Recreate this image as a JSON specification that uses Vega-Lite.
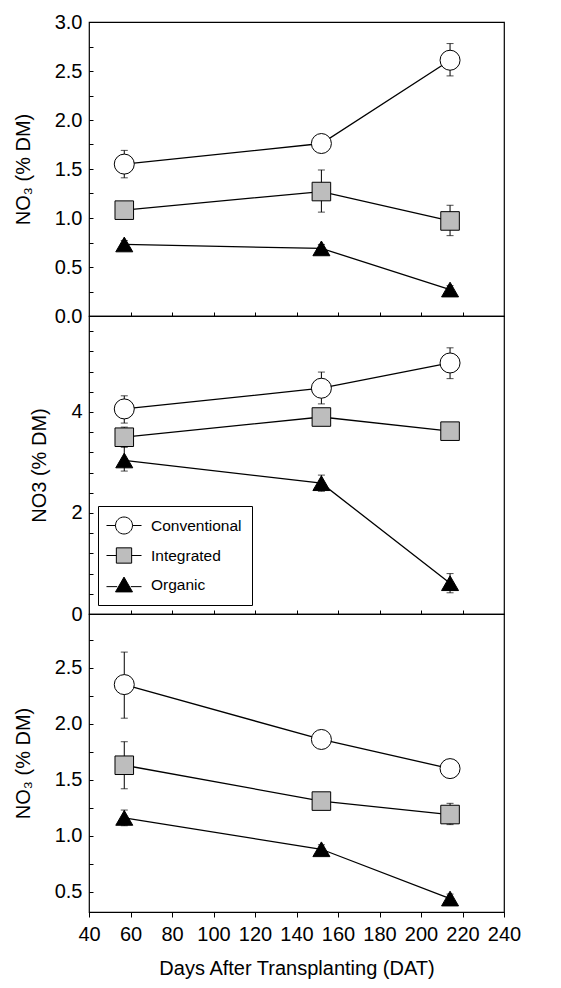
{
  "$schema": "https://vega.github.io/schema/vega-lite/v6.json",
  "autosize": {"type": "pad"},
  "padding": {"left": 12, "top": 11, "right": 5, "bottom": 5},
  "background": "white",
  "spacing": 0,
  "bounds": "flush",
  "config": {
    "view": {"stroke": "black", "strokeWidth": 1.2},
    "font": "Liberation Sans",
    "axis": {
      "labelFont": "Liberation Sans", "labelFontSize": 20, "labelColor": "black",
      "titleFont": "Liberation Sans", "titleFontSize": 20, "titleFontWeight": "normal", "titleColor": "black",
      "tickColor": "black", "domain": false, "grid": false
    },
    "legend": {"labelFont": "Liberation Sans"}
  },
  "datasets": {
    "d": [
      {"panel": "Young leaves", "trt": "Conventional", "dat": 57, "v": 1.55, "lo": 1.41, "hi": 1.69},
      {"panel": "Young leaves", "trt": "Conventional", "dat": 152, "v": 1.76, "lo": 1.72, "hi": 1.80},
      {"panel": "Young leaves", "trt": "Conventional", "dat": 214, "v": 2.61, "lo": 2.45, "hi": 2.78},
      {"panel": "Young leaves", "trt": "Integrated", "dat": 57, "v": 1.08, "lo": 1.02, "hi": 1.14},
      {"panel": "Young leaves", "trt": "Integrated", "dat": 152, "v": 1.27, "lo": 1.06, "hi": 1.49},
      {"panel": "Young leaves", "trt": "Integrated", "dat": 214, "v": 0.97, "lo": 0.82, "hi": 1.13},
      {"panel": "Young leaves", "trt": "Organic", "dat": 57, "v": 0.73, "lo": 0.69, "hi": 0.77},
      {"panel": "Young leaves", "trt": "Organic", "dat": 152, "v": 0.69, "lo": 0.64, "hi": 0.73},
      {"panel": "Young leaves", "trt": "Organic", "dat": 214, "v": 0.27, "lo": 0.23, "hi": 0.31},
      {"panel": "Stem", "trt": "Conventional", "dat": 57, "v": 4.06, "lo": 3.78, "hi": 4.32},
      {"panel": "Stem", "trt": "Conventional", "dat": 152, "v": 4.47, "lo": 4.16, "hi": 4.79},
      {"panel": "Stem", "trt": "Conventional", "dat": 214, "v": 4.97, "lo": 4.66, "hi": 5.27},
      {"panel": "Stem", "trt": "Integrated", "dat": 57, "v": 3.50, "lo": 3.30, "hi": 3.70},
      {"panel": "Stem", "trt": "Integrated", "dat": 152, "v": 3.90, "lo": 3.80, "hi": 4.00},
      {"panel": "Stem", "trt": "Integrated", "dat": 214, "v": 3.62, "lo": 3.50, "hi": 3.74},
      {"panel": "Stem", "trt": "Organic", "dat": 57, "v": 3.04, "lo": 2.83, "hi": 3.32},
      {"panel": "Stem", "trt": "Organic", "dat": 152, "v": 2.59, "lo": 2.43, "hi": 2.75},
      {"panel": "Stem", "trt": "Organic", "dat": 214, "v": 0.61, "lo": 0.42, "hi": 0.80},
      {"panel": "Roots", "trt": "Conventional", "dat": 57, "v": 2.35, "lo": 2.05, "hi": 2.64},
      {"panel": "Roots", "trt": "Conventional", "dat": 152, "v": 1.86, "lo": 1.82, "hi": 1.90},
      {"panel": "Roots", "trt": "Conventional", "dat": 214, "v": 1.60, "lo": 1.56, "hi": 1.64},
      {"panel": "Roots", "trt": "Integrated", "dat": 57, "v": 1.63, "lo": 1.42, "hi": 1.84},
      {"panel": "Roots", "trt": "Integrated", "dat": 152, "v": 1.31, "lo": 1.27, "hi": 1.35},
      {"panel": "Roots", "trt": "Integrated", "dat": 214, "v": 1.19, "lo": 1.10, "hi": 1.29},
      {"panel": "Roots", "trt": "Organic", "dat": 57, "v": 1.16, "lo": 1.09, "hi": 1.23},
      {"panel": "Roots", "trt": "Organic", "dat": 152, "v": 0.88, "lo": 0.84, "hi": 0.92},
      {"panel": "Roots", "trt": "Organic", "dat": 214, "v": 0.44, "lo": 0.40, "hi": 0.48}
    ]
  },
  "vconcat": [
    {
      "width": 415, "height": 294,
      "data": {"name": "d"},
      "transform": [{"filter": "datum.panel === 'Young leaves'"}],
      "encoding": {
        "x": {"field": "dat", "type": "quantitative",
          "scale": {"domain": [40, 240], "nice": false, "zero": false},
          "axis": {"labels": false, "title": null, "tickSize": -4, "values": [60, 80, 100, 120, 140, 160, 180, 200, 220]}},
        "y": {"field": "v", "type": "quantitative",
          "scale": {"domain": [0, 3], "nice": false, "zero": false},
          "axis": {"title": "NO₃ (% DM)", "tickSize": -4, "labelPadding": 11, "titlePadding": 21,
            "values": [0, 0.25, 0.5, 0.75, 1, 1.25, 1.5, 1.75, 2, 2.25, 2.5, 2.75, 3],
            "labelExpr": "(datum.value * 2) % 1 == 0 ? format(datum.value, '.1f') : ''"}}
      },
      "layer": [
        {"mark": {"type": "rule", "color": "black", "strokeWidth": 1}, "encoding": {"y": {"field": "lo", "type": "quantitative"}, "y2": {"field": "hi"}}},
        {"mark": {"type": "tick", "orient": "horizontal", "color": "black", "size": 7, "thickness": 1}, "encoding": {"y": {"field": "lo", "type": "quantitative"}}},
        {"mark": {"type": "tick", "orient": "horizontal", "color": "black", "size": 7, "thickness": 1}, "encoding": {"y": {"field": "hi", "type": "quantitative"}}},
        {"mark": {"type": "line", "color": "black", "strokeWidth": 1.3}, "encoding": {"detail": {"field": "trt"}}},
        {"mark": {"type": "point", "filled": true, "stroke": "black", "strokeWidth": 1, "opacity": 1},
          "encoding": {
            "fill": {"field": "trt", "type": "nominal", "scale": {"domain": ["Conventional", "Integrated", "Organic"], "range": ["white", "#bdbdbd", "black"]}, "legend": null},
            "shape": {"field": "trt", "type": "nominal", "scale": {"domain": ["Conventional", "Integrated", "Organic"], "range": ["circle", "square", "triangle-up"]}, "legend": null},
            "size": {"field": "trt", "type": "nominal", "scale": {"domain": ["Conventional", "Integrated", "Organic"], "range": [400, 289, 340]}, "legend": null}
          }},
        {"data": {"values": [{"label": "Young leaves"}]},
          "mark": {"type": "text", "align": "left", "baseline": "middle", "fontSize": 20, "font": "Liberation Sans", "color": "black"},
          "encoding": {"text": {"field": "label"}, "x": {"datum": 52}, "y": {"datum": 2.68}}}
      ]
    },
    {
      "width": 415, "height": 298,
      "data": {"name": "d"},
      "transform": [{"filter": "datum.panel === 'Stem'"}],
      "resolve": {"scale": {"fill": "independent", "shape": "independent", "stroke": "independent"}},
      "encoding": {
        "x": {"field": "dat", "type": "quantitative",
          "scale": {"domain": [40, 240], "nice": false, "zero": false},
          "axis": {"labels": false, "title": null, "tickSize": -4, "values": [60, 80, 100, 120, 140, 160, 180, 200, 220]}},
        "y": {"field": "v", "type": "quantitative",
          "scale": {"domain": [0, 5.9], "nice": false, "zero": false},
          "axis": {"title": "NO3 (% DM)", "tickSize": -4, "labelPadding": 11, "titlePadding": 21,
            "values": [0, 0.4, 0.8, 1.2, 1.6, 2, 2.4, 2.8, 3.2, 3.6, 4, 4.4, 4.8, 5.2, 5.6],
            "labelExpr": "datum.value == 0 || datum.value == 2 || datum.value == 4 ? format(datum.value, 'd') : ''"}}
      },
      "layer": [
        {"mark": {"type": "rule", "color": "black", "strokeWidth": 1}, "encoding": {"y": {"field": "lo", "type": "quantitative"}, "y2": {"field": "hi"}}},
        {"mark": {"type": "tick", "orient": "horizontal", "color": "black", "size": 7, "thickness": 1}, "encoding": {"y": {"field": "lo", "type": "quantitative"}}},
        {"mark": {"type": "tick", "orient": "horizontal", "color": "black", "size": 7, "thickness": 1}, "encoding": {"y": {"field": "hi", "type": "quantitative"}}},
        {"mark": {"type": "line", "color": "black", "strokeWidth": 1.3}, "encoding": {"detail": {"field": "trt"}}},
        {"mark": {"type": "point", "filled": true, "stroke": "black", "strokeWidth": 1, "opacity": 1},
          "encoding": {
            "fill": {"field": "trt", "type": "nominal", "scale": {"domain": ["Conventional", "Integrated", "Organic"], "range": ["white", "#bdbdbd", "black"]}, "legend": null},
            "shape": {"field": "trt", "type": "nominal", "scale": {"domain": ["Conventional", "Integrated", "Organic"], "range": ["circle", "square", "triangle-up"]}, "legend": null},
            "size": {"field": "trt", "type": "nominal", "scale": {"domain": ["Conventional", "Integrated", "Organic"], "range": [400, 289, 340]}, "legend": null}
          }},
        {"transform": [{"filter": "false"}],
          "mark": {"type": "point", "filled": true, "strokeWidth": 1, "opacity": 1},
          "encoding": {
            "fill": {"field": "trt", "type": "nominal", "scale": {"domain": ["Conventional", "Integrated", "Organic"], "range": ["white", "#bdbdbd", "black"]},
              "legend": {"title": null, "orient": "bottom-left", "offset": 9, "strokeColor": "black", "fillColor": "white", "padding": 10.5,
                "symbolSize": 289, "symbolOffset": 6.5, "labelOffset": 18, "labelFontSize": 15.5, "labelColor": "black", "rowPadding": 9, "symbolStrokeWidth": 1}},
            "shape": {"field": "trt", "type": "nominal", "scale": {"domain": ["Conventional", "Integrated", "Organic"], "range": ["M-2.06,0H-1M1,0H2.06M-1,0A1,1,0,1,1,1,0A1,1,0,1,1,-1,0Z", "M-2.06,0H-0.9M0.9,0H2.06M-0.9,-0.9H0.9V0.9H-0.9Z", "M-2.06,0.25H-0.8M0.8,0.25H2.06M0,-0.87L1,0.87L-1,0.87Z"]},
              "legend": {"title": null, "orient": "bottom-left", "offset": 9, "strokeColor": "black", "fillColor": "white", "padding": 10.5,
                "symbolSize": 289, "symbolOffset": 6.5, "labelOffset": 18, "labelFontSize": 15.5, "labelColor": "black", "rowPadding": 9, "symbolStrokeWidth": 1}},
            "stroke": {"field": "trt", "type": "nominal", "scale": {"domain": ["Conventional", "Integrated", "Organic"], "range": ["black", "black", "black"]},
              "legend": {"title": null, "orient": "bottom-left", "offset": 9, "strokeColor": "black", "fillColor": "white", "padding": 10.5,
                "symbolSize": 289, "symbolOffset": 6.5, "labelOffset": 18, "labelFontSize": 15.5, "labelColor": "black", "rowPadding": 9, "symbolStrokeWidth": 1}}
          }},
        {"data": {"values": [{"label": "Stem"}]},
          "mark": {"type": "text", "align": "left", "baseline": "middle", "fontSize": 20, "font": "Liberation Sans", "color": "black"},
          "encoding": {"text": {"field": "label"}, "x": {"datum": 50.6}, "y": {"datum": 5.25}}}
      ]
    },
    {
      "width": 415, "height": 298,
      "data": {"name": "d"},
      "transform": [{"filter": "datum.panel === 'Roots'"}],
      "encoding": {
        "x": {"field": "dat", "type": "quantitative",
          "scale": {"domain": [40, 240], "nice": false, "zero": false},
          "axis": {"title": "Days After Transplanting (DAT)", "tickSize": 5, "labelPadding": 7, "titlePadding": 14, "labelFlush": false,
            "values": [40, 60, 80, 100, 120, 140, 160, 180, 200, 220, 240]}},
        "y": {"field": "v", "type": "quantitative",
          "scale": {"domain": [0.32, 2.98], "nice": false, "zero": false},
          "axis": {"title": "NO₃ (% DM)", "tickSize": -4, "labelPadding": 11, "titlePadding": 21,
            "values": [0.5, 0.75, 1, 1.25, 1.5, 1.75, 2, 2.25, 2.5, 2.75],
            "labelExpr": "(datum.value * 2) % 1 == 0 ? format(datum.value, '.1f') : ''"}}
      },
      "layer": [
        {"mark": {"type": "rule", "color": "black", "strokeWidth": 1}, "encoding": {"y": {"field": "lo", "type": "quantitative"}, "y2": {"field": "hi"}}},
        {"mark": {"type": "tick", "orient": "horizontal", "color": "black", "size": 7, "thickness": 1}, "encoding": {"y": {"field": "lo", "type": "quantitative"}}},
        {"mark": {"type": "tick", "orient": "horizontal", "color": "black", "size": 7, "thickness": 1}, "encoding": {"y": {"field": "hi", "type": "quantitative"}}},
        {"mark": {"type": "line", "color": "black", "strokeWidth": 1.3}, "encoding": {"detail": {"field": "trt"}}},
        {"mark": {"type": "point", "filled": true, "stroke": "black", "strokeWidth": 1, "opacity": 1},
          "encoding": {
            "fill": {"field": "trt", "type": "nominal", "scale": {"domain": ["Conventional", "Integrated", "Organic"], "range": ["white", "#bdbdbd", "black"]}, "legend": null},
            "shape": {"field": "trt", "type": "nominal", "scale": {"domain": ["Conventional", "Integrated", "Organic"], "range": ["circle", "square", "triangle-up"]}, "legend": null},
            "size": {"field": "trt", "type": "nominal", "scale": {"domain": ["Conventional", "Integrated", "Organic"], "range": [400, 289, 340]}, "legend": null}
          }},
        {"data": {"values": [{"label": "Roots"}]},
          "mark": {"type": "text", "align": "left", "baseline": "middle", "fontSize": 20, "font": "Liberation Sans", "color": "black"},
          "encoding": {"text": {"field": "label"}, "x": {"datum": 46.3}, "y": {"datum": 2.76}}}
      ]
    }
  ]
}
